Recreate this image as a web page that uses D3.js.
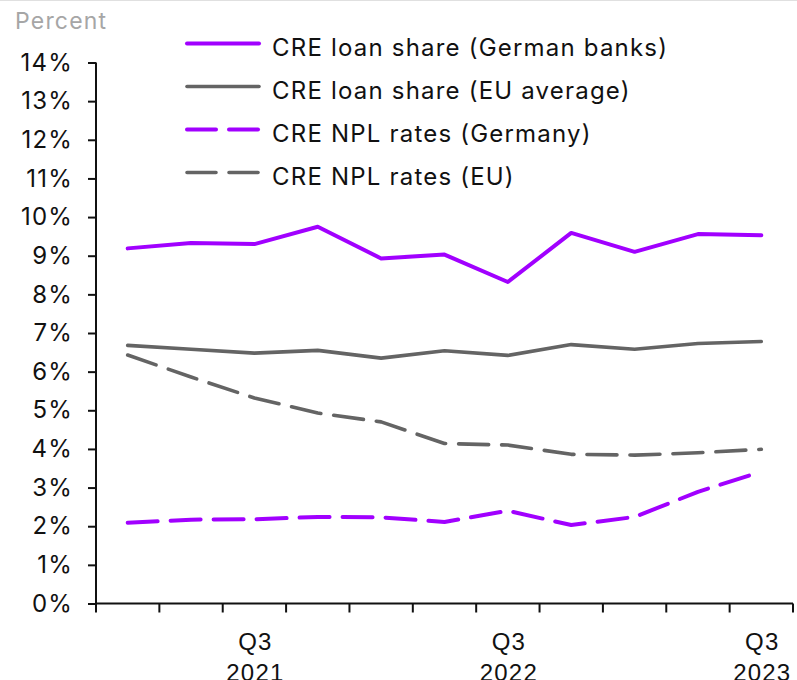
<!DOCTYPE html>
<html>
<head>
<meta charset="utf-8">
<script src="https://cdn.jsdelivr.net/npm/d3@7"></script>
<style>
  body { margin: 0; background: #fff; }
  svg { display: block; font-family: Inter, 'Liberation Sans', sans-serif; }
  svg text { letter-spacing: 1.2px; }
</style>
</head>
<body>
<div id="app"></div>
<script>
(function (d3) {

  'use strict'

  // quarters Q1 2021 .. Q3 2023
  const quarters = ['Q1 2021', 'Q2 2021', 'Q3 2021', 'Q4 2021', 'Q1 2022', 'Q2 2022', 'Q3 2022', 'Q4 2022', 'Q1 2023', 'Q2 2023', 'Q3 2023']
  const yTicks = [0, 1, 2, 3, 4, 5, 6, 7, 8, 9, 10, 11, 12, 13, 14]

  const loanShareDE = [9.19, 9.33, 9.30, 9.75, 8.93, 9.03, 8.32, 9.59, 9.10, 9.56, 9.53]
  const loanShareEU = [6.68, 6.58, 6.48, 6.55, 6.35, 6.54, 6.42, 6.70, 6.58, 6.73, 6.78]
  const nplDE = [2.09, 2.17, 2.18, 2.24, 2.23, 2.11, 2.40, 2.03, 2.24, 2.89, 3.41]
  const nplEU = [6.43, 5.86, 5.32, 4.93, 4.70, 4.14, 4.10, 3.86, 3.84, 3.90, 3.99]

  const series = [
    { name: 'CRE loan share (German banks)', values: loanShareDE, color: '#a100ff', dash: null },
    { name: 'CRE loan share (EU average)', values: loanShareEU, color: '#646464', dash: null },
    { name: 'CRE NPL rates (Germany)', values: nplDE, color: '#a100ff', dash: '30,13' },
    { name: 'CRE NPL rates (EU)', values: nplEU, color: '#646464', dash: '30,13' }
  ]

  const w = 797
  const h = 680
  const fs = 24

  const svg = d3.select('#app')
  .append('svg')
  .attr('width', w)
  .attr('height', h)

  // faint rule at the very top
  svg.append('line')
  .attr('x1', 0).attr('x2', w)
  .attr('y1', 0.5).attr('y2', 0.5)
  .attr('stroke', '#e0e0e0')

  const x = d3.scaleBand()
  .domain(quarters)
  .range([96, 793])

  const y = d3.scaleLinear()
  .domain([0, 14])
  .range([603.5, 62.5])

  // y axis
  const yAxis = svg.append('g')
  .attr('transform', 'translate(96,0)')
  .call(d3.axisLeft(y).tickValues(yTicks).tickFormat(d => d + '%').tickSize(8).tickPadding(15))
  yAxis.selectAll('text').attr('font-size', fs).attr('fill', '#111').attr('font-family', 'Inter, sans-serif')
  yAxis.selectAll('line,path').attr('stroke', '#111').attr('stroke-width', 2)
  yAxis.select('.domain').attr('d', 'M0,' + y(14) + 'V' + y(0))

  // x axis
  const xAxis = svg.append('g')
  .attr('transform', 'translate(0,' + y(0) + ')')
  .call(d3.axisBottom(x).tickValues([]).tickSizeOuter(0))
  xAxis.selectAll('line,path').attr('stroke', '#111').attr('stroke-width', 2)
  xAxis.select('.domain').attr('d', 'M96,0H793')

  // band boundary ticks
  const bounds = quarters.map(q => x(q)).concat([x.range()[1]])
  xAxis.selectAll('.btick')
  .data(bounds)
  .enter()
  .append('line')
  .attr('x1', d => d).attr('x2', d => d)
  .attr('y1', 0).attr('y2', 9)
  .attr('stroke', '#111')
  .attr('stroke-width', 2)

  const labelled = quarters.filter(q => q.startsWith('Q3'))
  const cx = d => x(d) + x.bandwidth() / 2 + 1
  const xl = xAxis.selectAll('.xl')
  .data(labelled)
  .enter()
  .append('text')
  .attr('text-anchor', 'middle')
  .attr('font-size', fs)
  .attr('fill', '#111')
  xl.append('tspan').attr('x', cx).attr('y', 46.5).text(d => d.split(' ')[0])
  xl.append('tspan').attr('x', cx).attr('y', 77).text(d => d.split(' ')[1])

  // unit label
  svg.append('text')
  .attr('x', 15)
  .attr('y', 28.5)
  .attr('font-size', 23)
  .attr('fill', '#a6a6a6')
  .text('Percent')

  // lines
  const line = d3.line()
  .x((d, i) => x(quarters[i]) + x.bandwidth() / 2)
  .y(d => y(d))

  svg.append('g')
  .selectAll('path')
  .data(series)
  .enter()
  .append('path')
  .attr('d', d => line(d.values))
  .attr('fill', 'none')
  .attr('stroke', d => d.color)
  .attr('stroke-width', d => d.color === '#a100ff' ? 4 : 3.6)
  .attr('stroke-dasharray', d => d.dash)
  .attr('stroke-linecap', 'round')
  .attr('stroke-linejoin', 'round')

  // legend
  const legend = svg.append('g')
  .selectAll('g')
  .data(series)
  .enter()
  .append('g')
  .attr('transform', (d, i) => 'translate(0,' + (43.5 + i * 43) + ')')

  legend.append('line')
  .attr('x1', 187).attr('x2', 259)
  .attr('y1', 0).attr('y2', 0)
  .attr('stroke', d => d.color)
  .attr('stroke-width', d => d.color === '#a100ff' ? 4 : 3.6)
  .attr('stroke-dasharray', d => d.dash ? '29,13' : null)
  .attr('stroke-linecap', 'round')

  legend.append('text')
  .attr('x', 272)
  .attr('y', 12)
  .attr('font-size', fs)
  .attr('fill', '#111')
  .text(d => d.name)

}(d3))
</script>
</body>
</html>
